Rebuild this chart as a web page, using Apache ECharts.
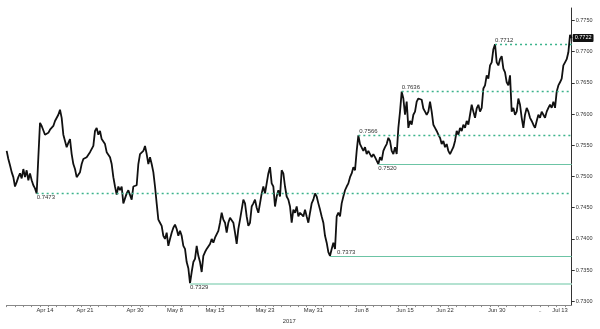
<!DOCTYPE html>
<html><head><meta charset="utf-8">
<script src="https://cdn.jsdelivr.net/npm/echarts@6/dist/echarts.min.js"></script>
<style>html,body{margin:0;padding:0;background:#fff}#c{width:600px;height:329px}</style>
</head><body><div id="c"></div>
<script>
// price series, in consecutive chunks
const pricesA = [0.7541,0.7528,0.7518,0.7507,0.7499,0.7484,0.7491,0.7499,0.7505,0.7497,
0.7512,0.7499,0.7510,0.7494,0.7505,0.7494,0.7486,0.7481,0.7473,0.7531,
0.7586,0.7581,0.7578,0.7567,0.7565,0.7570,0.7575,0.7578,0.7581,0.7589,
0.7591,0.7599,0.7607,0.7594,0.7567,0.7557,0.7547,0.7554,0.7560,0.7536,
0.7520,0.7512,0.7499,0.7497,0.7507,0.7520,0.7528,0.7526,0.7531,0.7528,
0.7539,0.7541,0.7549,0.7573,0.7578,0.7567,0.7573];
const pricesB = [0.7560,0.7557,0.7552,0.7539,0.7536,0.7531,0.7520,0.7499,0.7484,0.7471,
0.7484,0.7478,0.7484,0.7457,0.7465,0.7473,0.7478,0.7476,0.7463,0.7484,
0.7484,0.7486,0.7520,0.7536,0.7533,0.7541,0.7549,0.7536,0.7520,0.7531,
0.7520,0.7507,0.7484,0.7457,0.7431,0.7426,0.7421,0.7405,0.7400,0.7410,
0.7389,0.7400,0.7410,0.7418,0.7423,0.7416,0.7405,0.7413,0.7405,0.7389,
0.7384,0.7363,0.7353,0.7329,0.7347,0.7363,0.7368];
const pricesC = [0.7389,0.7373,0.7363,0.7347,0.7373,0.7379,0.7384,0.7387,0.7392,0.7400,
0.7394,0.7402,0.7405,0.7413,0.7426,0.7442,0.7431,0.7426,0.7410,0.7426,
0.7434,0.7431,0.7426,0.7410,0.7392,0.7416,0.7431,0.7447,0.7463,0.7457,
0.7436,0.7421,0.7426,0.7452,0.7457,0.7463,0.7450,0.7442,0.7457,0.7473,
0.7484,0.7473,0.7489,0.7505,0.7515,0.7489,0.7484,0.7452,0.7468,0.7478,
0.7468,0.7510,0.7505,0.7484,0.7468,0.7463,0.7452];
const pricesD = [0.7426,0.7447,0.7442,0.7452,0.7436,0.7442,0.7444,0.7436,0.7447,0.7436,
0.7426,0.7442,0.7457,0.7463,0.7473,0.7468,0.7457,0.7447,0.7436,0.7426,
0.7405,0.7394,0.7379,0.7373,0.7384,0.7394,0.7384,0.7436,0.7442,0.7436,
0.7457,0.7468,0.7478,0.7484,0.7489,0.7499,0.7505,0.7515,0.7510,0.7541,
0.7566,0.7552,0.7549,0.7541,0.7547,0.7536,0.7541,0.7536,0.7531,0.7536,
0.7531,0.7528,0.7520,0.7531,0.7526,0.7541,0.7547];
const pricesE = [0.7552,0.7562,0.7557,0.7541,0.7536,0.7547,0.7536,0.7578,0.7604,0.7636,
0.7625,0.7599,0.7620,0.7578,0.7589,0.7583,0.7599,0.7604,0.7620,0.7625,
0.7628,0.7623,0.7609,0.7604,0.7599,0.7604,0.7620,0.7604,0.7583,0.7578,
0.7573,0.7567,0.7562,0.7552,0.7557,0.7547,0.7552,0.7541,0.7536,0.7539,
0.7547,0.7557,0.7573,0.7567,0.7578,0.7573,0.7583,0.7578,0.7589,0.7583,
0.7599,0.7615,0.7604,0.7594,0.7609,0.7615,0.7604];
const pricesF = [0.7610,0.7641,0.7646,0.7662,0.7657,0.7678,0.7683,0.7704,0.7712,0.7683,
0.7678,0.7688,0.7693,0.7673,0.7667,0.7651,0.7646,0.7662,0.7604,0.7610,
0.7599,0.7604,0.7625,0.7615,0.7594,0.7578,0.7599,0.7610,0.7604,0.7594,
0.7589,0.7583,0.7578,0.7589,0.7599,0.7594,0.7604,0.7599,0.7594,0.7604,
0.7610,0.7615,0.7610,0.7620,0.7610,0.7636,0.7646,0.7651,0.7657,0.7678,
0.7683,0.7688,0.7699,0.7727,0.7722];

// x-axis date labels and the data index they sit at
const dateLabels   = ['Apr 14','Apr 21','Apr 30','May 8','May 15','May 23','May 31','Jun 8','Jun 15','Jun 22','Jun 30','..','Jul 13'];
const dateLabelIdx = [23, 47, 77, 101, 125, 155, 184, 213, 239, 263, 294, 320, 332];
const yearLabel = '2017';

// y-axis tick values
const yTicks = [0.7300,0.7350,0.7400,0.7450,0.7500,0.7550,0.7600,0.7650,0.7700,0.7750];

// support / resistance levels and the data index where each begins
const levelValues   = [0.7473, 0.7329, 0.7373, 0.7520, 0.7566, 0.7636, 0.7712];
const levelStartIdx = [18, 110, 194, 223, 211, 237, 293];

// ---------------------------------------------------------------
const prices = [].concat(pricesA, pricesB, pricesC, pricesD, pricesE, pricesF);
const cats = prices.map((_, i) => String(i));
const lastIdx = prices.length - 1;
const labelMap = {};
dateLabelIdx.forEach((idx, k) => { labelMap[idx] = dateLabels[k]; });

const FONT = 'Liberation Sans';
function lineStyleFor(k) {
  if (k === 1) return { color: '#b4e2d1', width: 1.8, type: 'solid', opacity: 1 };
  if (k === 2 || k === 3) return { color: '#6cc4a5', width: 1.2, type: 'solid', opacity: 1 };
  return { color: '#3cb38c', width: 1.4, type: [2, 3], opacity: 1 };
}
const levelPos   = ['insideStartBottom','insideStartBottom','insideStartTop','insideStartBottom','insideStartTop','insideStartTop','insideStartTop'];
const levelDist  = [[0,1],[0,1],[7,0],[0,1],[1,1],[0,1],[0,1]];

const markData = levelValues.map((v, k) => [
  { coord: [levelStartIdx[k], v], lineStyle: lineStyleFor(k),
    label: { show: true, position: levelPos[k], distance: levelDist[k], formatter: v.toFixed(4),
             color: '#333', fontSize: 6, fontFamily: FONT } },
  { coord: [lastIdx, v], lineStyle: lineStyleFor(k) }
]);

const chart = echarts.init(document.getElementById('c'), null, { renderer: 'canvas' });
chart.setOption({
  animation: false,
  backgroundColor: '#fff',
  grid: { left: 6.67, right: 28.3, top: 8, bottom: 18.3, containLabel: false },
  xAxis: {
    type: 'category', data: cats, boundaryGap: false,
    name: yearLabel, nameLocation: 'middle', nameGap: 10,
    nameTextStyle: { fontSize: 5.8, color: '#333', fontFamily: FONT },
    axisLine: { lineStyle: { color: '#888', width: 1 } },
    axisTick: { show: true, length: 2, interval: (i) => i % 5 === 0, lineStyle: { color: '#888' } },
    axisLabel: { show: true, interval: (i) => labelMap[i] !== undefined, formatter: (val, i) => labelMap[i] || '',
                 fontSize: 5.8, color: '#333', fontFamily: FONT, margin: 2 },
    splitLine: { show: false }
  },
  yAxis: {
    type: 'value', position: 'right', min: 0.7294, max: 0.7770, scale: true,
    axisLine: { show: true, lineStyle: { color: '#333', width: 1 } },
    axisTick: { show: true, length: 3, customValues: yTicks, lineStyle: { color: '#333' } },
    axisLabel: { show: true, customValues: yTicks, formatter: (v) => v.toFixed(4),
                 fontSize: 5.5, color: '#333', fontFamily: FONT, margin: 4 },
    splitLine: { show: false }
  },
  series: [{
    type: 'line', data: prices, showSymbol: false, symbol: 'none',
    lineStyle: { color: '#111', width: 1.8 },
    endLabel: { show: true, formatter: () => prices[lastIdx].toFixed(4), backgroundColor: '#111',
                color: '#fff', fontSize: 5.5, fontFamily: FONT, padding: [1, 2], borderRadius: 1, distance: 1 },
    markLine: { silent: true, symbol: ['none', 'none'], animation: false,
                lineStyle: { color: '#3cb38c', width: 1.4, type: [2, 3] },
                data: markData },
    z: 3
  }]
});
</script></body></html>
